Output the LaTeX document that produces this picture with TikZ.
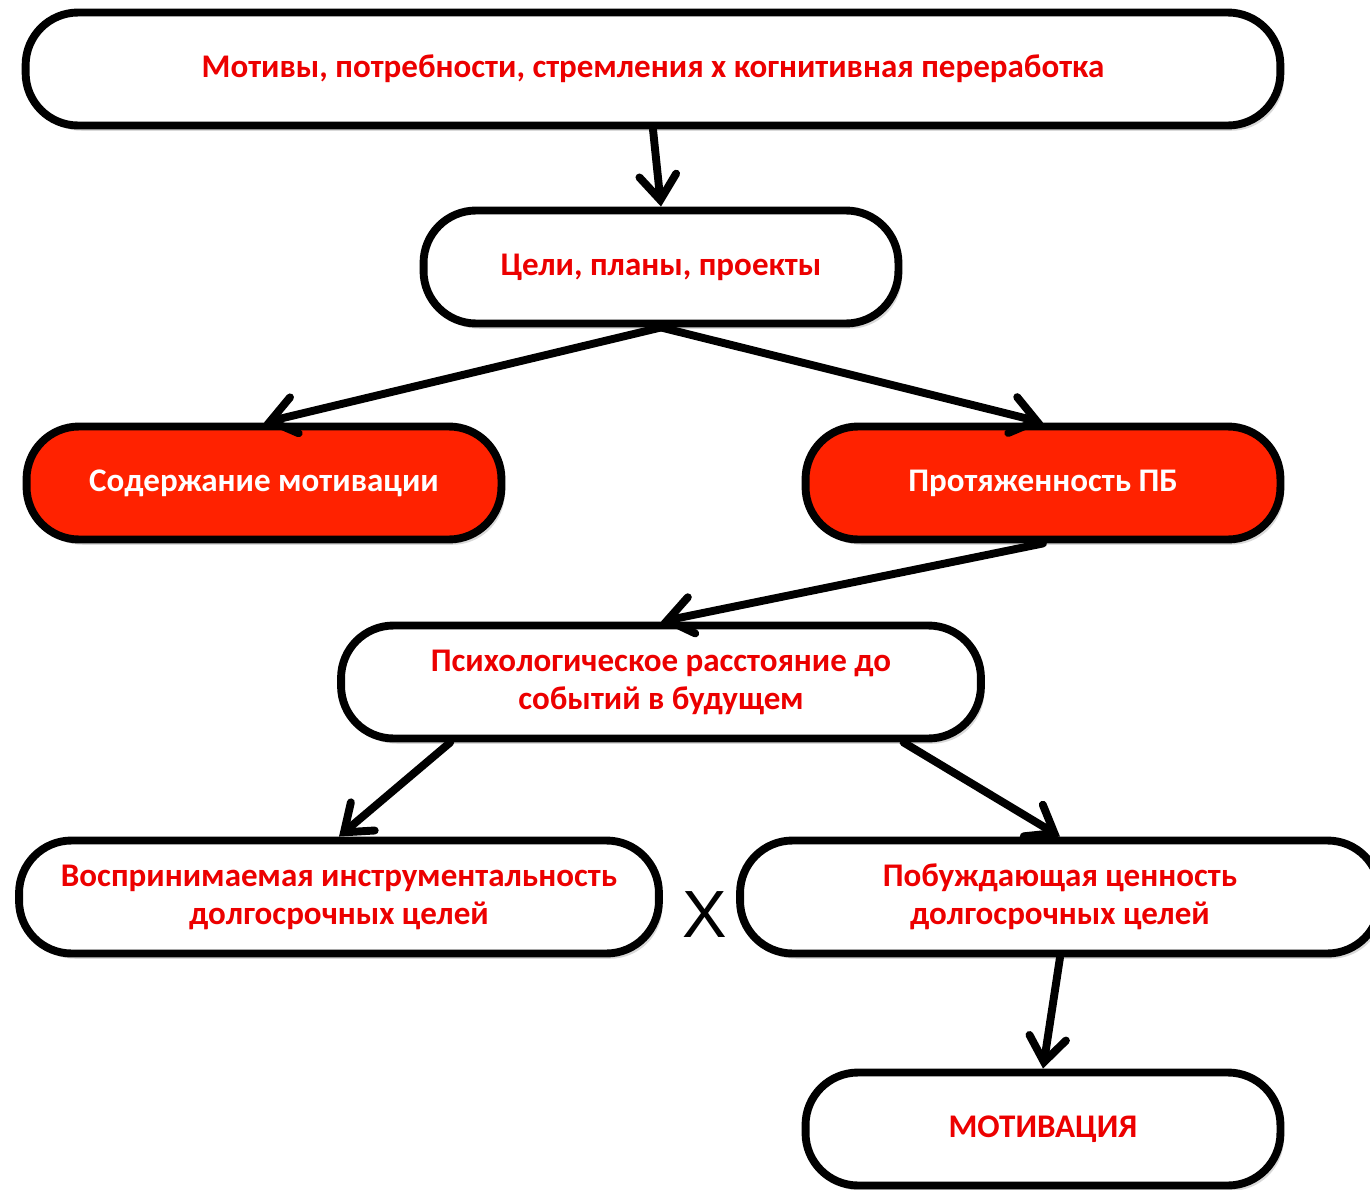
\documentclass[tikz,border=0pt]{standalone}
\usepackage{fontspec}
\setmainfont{Carlito}
\newfontfamily\timesfont{Liberation Sans}
\usetikzlibrary{arrows.meta,shadows}
\definecolor{boxred}{RGB}{255,34,0}
\definecolor{txtred}{RGB}{236,0,0}
\tikzset{
  stage/.style={draw, line width=4.5pt, rounded corners=1.05cm, fill=white,
    minimum height=2.26cm, align=center, text=txtred,
    font=\bfseries\fontsize{18.8}{21.6}\selectfont,
    drop shadow={opacity=0.3, shadow xshift=2pt, shadow yshift=-3pt}},
  hot/.style={stage, fill=boxred, text=white},
  link/.style={line width=4.5pt, line cap=round,
    -{Straight Barb[length=14pt, width=21pt, line cap=round]}}
}

\begin{document}
\begin{tikzpicture}[x=0.02cm, y=-0.02cm]
    \useasboundingbox (0,0) rectangle (1370,1190);
    % boxes
    \node[stage, minimum width=25.1cm] (top) at (653,69)
        {Мотивы, потребности, стремления х когнитивная переработка};
    \node[stage, minimum width=9.5cm] (goals) at (661,267) {Цели, планы, проекты};
    \node[hot, minimum width=9.5cm] (content) at (264,483) {Содержание мотивации};
    \node[hot, minimum width=9.5cm] (extent) at (1043,483) {Протяженность ПБ};
    \node[stage, minimum width=12.8cm] (distance) at (661,682)
        {Психологическое расстояние до\\событий в будущем};
    \node[stage, minimum width=12.8cm] (instr) at (339,897)
        {Воспринимаемая инструментальность\\долгосрочных целей};
    \node[stage, minimum width=12.8cm] (value) at (1060,897)
        {Побуждающая ценность\\долгосрочных целей};
    \node[stage, minimum width=9.5cm] (motiv) at (1043,1129) {МОТИВАЦИЯ};
    \node (times) at (705,915) {\timesfont\fontsize{38}{40}\selectfont X};
    % arrows
    \draw[link] (top.south) -- (goals.north);
    \draw[link] (goals.south) -- (content.north);
    \draw[link] (goals.south) -- (extent.north);
    \draw[link] (extent.south) -- (distance.north);
    \draw[link] (distance.196) -- (instr.north);
    \draw[link] (distance.-14) -- (value.north);
    \draw[link] (value.south) -- (motiv.north);
\end{tikzpicture}
\end{document}
